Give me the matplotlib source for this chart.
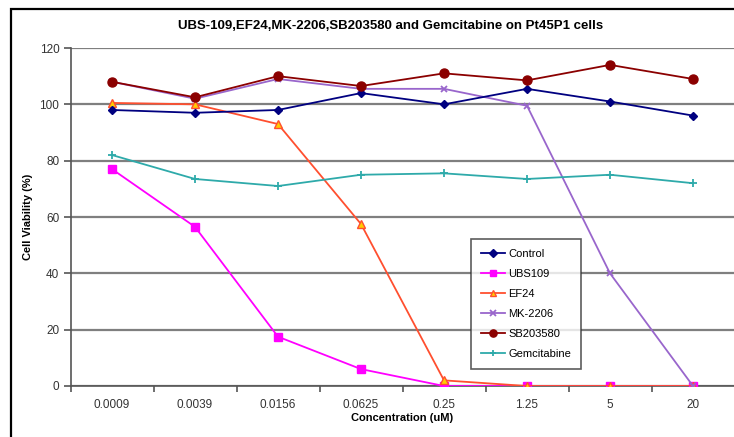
import matplotlib.pyplot as plt
import matplotlib.patches as mpatches
import numpy as np

plt.rcParams['font.family'] = ['Liberation Sans', 'DejaVu Sans']

concentrations = ["0.0009", "0.0039", "0.0156", "0.0625", "0.25", "1.25", "5", "20"]

control = [98, 97, 98, 104, 100, 105.5, 101, 96]
ubs109 = [77, 56.5, 17.5, 6, 0, 0, 0, 0]
ef24 = [100.5, 100, 93, 57.5, 2, 0, 0, 0]
mk2206 = [108, 102, 109, 105.5, 105.5, 99.5, 40, 0]
sb203580 = [108, 102.5, 110, 106.5, 111, 108.5, 114, 109]
gemcitabine = [82, 73.5, 71, 75, 75.5, 73.5, 75, 72]

fig = plt.figure(figsize=(7.34, 4.37), dpi=100)
W, H = 734, 437
ax = fig.add_axes([70.5 / W, (H - 386) / H, 664 / W, 338 / H])

# outer chart border (cut off at right and bottom like the screenshot)
fig.patches.append(mpatches.Rectangle((11 / W, -0.05), 1.0, (H - 9) / H + 0.05,
                                      transform=fig.transFigure, fill=False,
                                      edgecolor='black', linewidth=1.6))

x = np.arange(len(concentrations))
lw = 1.3
ax.plot(x, control, color='#000080', marker='D', markersize=4.5, lw=lw, label='Control', zorder=5)
ax.plot(x, ubs109, color='#FF00FF', marker='s', markersize=5.5, lw=lw, label='UBS109', zorder=4)
ax.plot(x, ef24, color='#FF4F2F', marker='^', markersize=6, markerfacecolor='#FFCC00',
        markeredgecolor='#FF4F2F', lw=lw, label='EF24', zorder=4)
ax.plot(x, mk2206, color='#9966CC', marker='x', markersize=5, mew=1.3, lw=lw, label='MK-2206', zorder=4)
ax.plot(x, sb203580, color='#8B0000', marker='o', markersize=6.5, lw=lw, label='SB203580', zorder=5)
ax.plot(x, gemcitabine, color='#2EAAAA', marker='+', markersize=6, mew=1.3, lw=lw, label='Gemcitabine', zorder=4)

ax.set_xlim(-0.5, len(concentrations) - 0.5)
ax.set_ylim(0, 120)
ax.set_yticks(np.arange(0, 121, 20))
ax.set_xticks(x)
ax.set_xticklabels(concentrations, fontsize=8.5)
ax.set_xticks(np.arange(-0.5, len(concentrations), 1), minor=True)
ax.tick_params(axis='x', which='major', length=0, pad=9, labelcolor='#333333')
ax.tick_params(axis='x', which='minor', length=4, width=1.2, direction='out', color='#555555')
ax.tick_params(axis='y', length=5, width=1.2, direction='out', labelsize=8.5, pad=3,
               color='#555555', labelcolor='#333333')
ax.yaxis.grid(True, color='#7f7f7f', linewidth=1.6)
ax.set_axisbelow(True)
for s in ['top', 'right']:
    ax.spines[s].set_visible(False)
ax.spines['left'].set_color('#555555')
ax.spines['bottom'].set_color('#555555')
ax.spines['left'].set_linewidth(1.2)
ax.spines['bottom'].set_linewidth(1.2)

ax.set_xlabel('Concentration (uM)', fontsize=8, fontweight='bold', labelpad=2)
ax.set_ylabel('Cell Viability (%)', fontsize=8, fontweight='bold', labelpad=5)
fig.text(391 / W, 1 - 26 / H, 'UBS-109,EF24,MK-2206,SB203580 and Gemcitabine on Pt45P1 cells',
         ha='center', va='center', fontsize=9.5, fontweight='bold')

leg = ax.legend(loc='upper left', bbox_to_anchor=((465 - 70.5) / 664, (386 - 233) / 338),
                fontsize=8, frameon=True, fancybox=False, edgecolor='#333333',
                handlelength=2.2, labelspacing=0.9, borderpad=0.9, handletextpad=0.3,
                markerscale=0.8)
leg.get_frame().set_linewidth(1.2)

fig.savefig('out.png', dpi=100)
